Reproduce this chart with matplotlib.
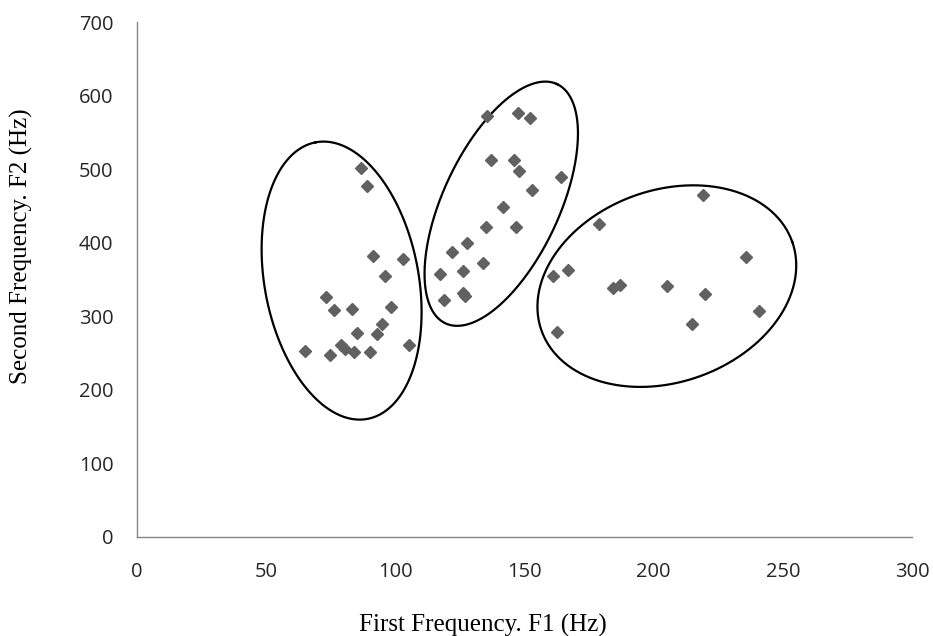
import numpy as np
import matplotlib
matplotlib.use("Agg")
import matplotlib.pyplot as plt

# --- Data ---
f1 = [86.7, 89.2, 91.2, 103.1, 96.1, 73.2, 76.4, 83.2, 98.2, 94.9,
      93.0, 85.1, 78.9, 80.5, 84.1, 90.2, 65.0, 74.7, 105.2,
      135.6, 147.6, 152.1, 137.0, 145.9, 147.9, 164.1, 153.0, 141.8, 135.1,
      146.8, 127.9, 121.8, 133.8, 117.3, 126.0, 119.0, 126.3, 127.0,
      219.0, 179.0, 235.8, 167.0, 160.9, 184.2, 187.0, 205.1, 219.9,
      240.9, 214.7, 162.7]
f2 = [502, 477, 382, 378, 355, 326, 309, 310, 313, 290,
      276, 277, 261, 256, 252, 252, 253, 247, 261,
      572, 576, 570, 513, 512, 497, 489, 471, 448, 422,
      422, 399, 387, 373, 357, 362, 322, 331, 327,
      465, 425, 381, 363, 355, 338, 342, 341, 330,
      307, 290, 278]

xticks = [0, 50, 100, 150, 200, 250, 300]
yticks = [0, 100, 200, 300, 400, 500, 600, 700]

# cluster outlines: centre (data units), semi-axes (px), angle of major axis (deg)
clusters = [
    ((79.2, 348.5), 140.7, 77.0, 100.6),
    ((141.0, 453.0), 132.0, 58.1, 65.0),
    ((205.1, 341.0), 133.0, 96.0, 19.5),
]

# --- Figure ---
W, H = 933, 636
fig = plt.figure(figsize=(W / 100, H / 100), dpi=100)
left, right, bottom, top = 137, 912, 537, 22
ax = fig.add_axes([left / W, 1 - bottom / H, (right - left) / W, (bottom - top) / H])

ax.set_xlim(0, 300)
ax.set_ylim(0, 700)
ax.set_xticks(xticks)
ax.set_yticks(yticks)

# px per data unit, so the outlines come out as proper ellipses on screen
sx = (right - left) / 300
sy = (bottom - top) / 700
t = np.linspace(0, 2 * np.pi, 400)
for (cx, cy), a, b, ang in clusters:
    th = np.deg2rad(ang)
    ex = cx + (a * np.cos(t) * np.cos(th) - b * np.sin(t) * np.sin(th)) / sx
    ey = cy + (a * np.cos(t) * np.sin(th) + b * np.sin(t) * np.cos(th)) / sy
    ax.plot(ex, ey, color="black", lw=1.6, zorder=3)

ax.plot(f1, f2, linestyle="none", marker="D", markersize=6.5,
        color="#616161", markeredgecolor="#616161", zorder=4, clip_on=False)

for s in ["top", "right"]:
    ax.spines[s].set_visible(False)
for s in ["left", "bottom"]:
    ax.spines[s].set_color("#868686")
    ax.spines[s].set_linewidth(1.0)

ax.tick_params(length=0, labelsize=14.5, labelcolor="#262626")
ax.tick_params(axis="x", pad=18)
ax.tick_params(axis="y", pad=17)
for lab in ax.get_xticklabels() + ax.get_yticklabels():
    lab.set_family(["Open Sans", "DejaVu Sans"])

# axis titles (Excel puts them a bit off the plot centre)
fig.text(483 / W, 4.5 / H, "First Frequency. F1 (Hz)", family="Liberation Serif",
         fontsize=18, ha="center", va="baseline")
fig.text(21 / W, 1 - 246 / H, "Second Frequency. F2 (Hz)", family="Liberation Serif",
         fontsize=18, ha="center", va="center", rotation=90)

fig.savefig("out.png", dpi=100)
